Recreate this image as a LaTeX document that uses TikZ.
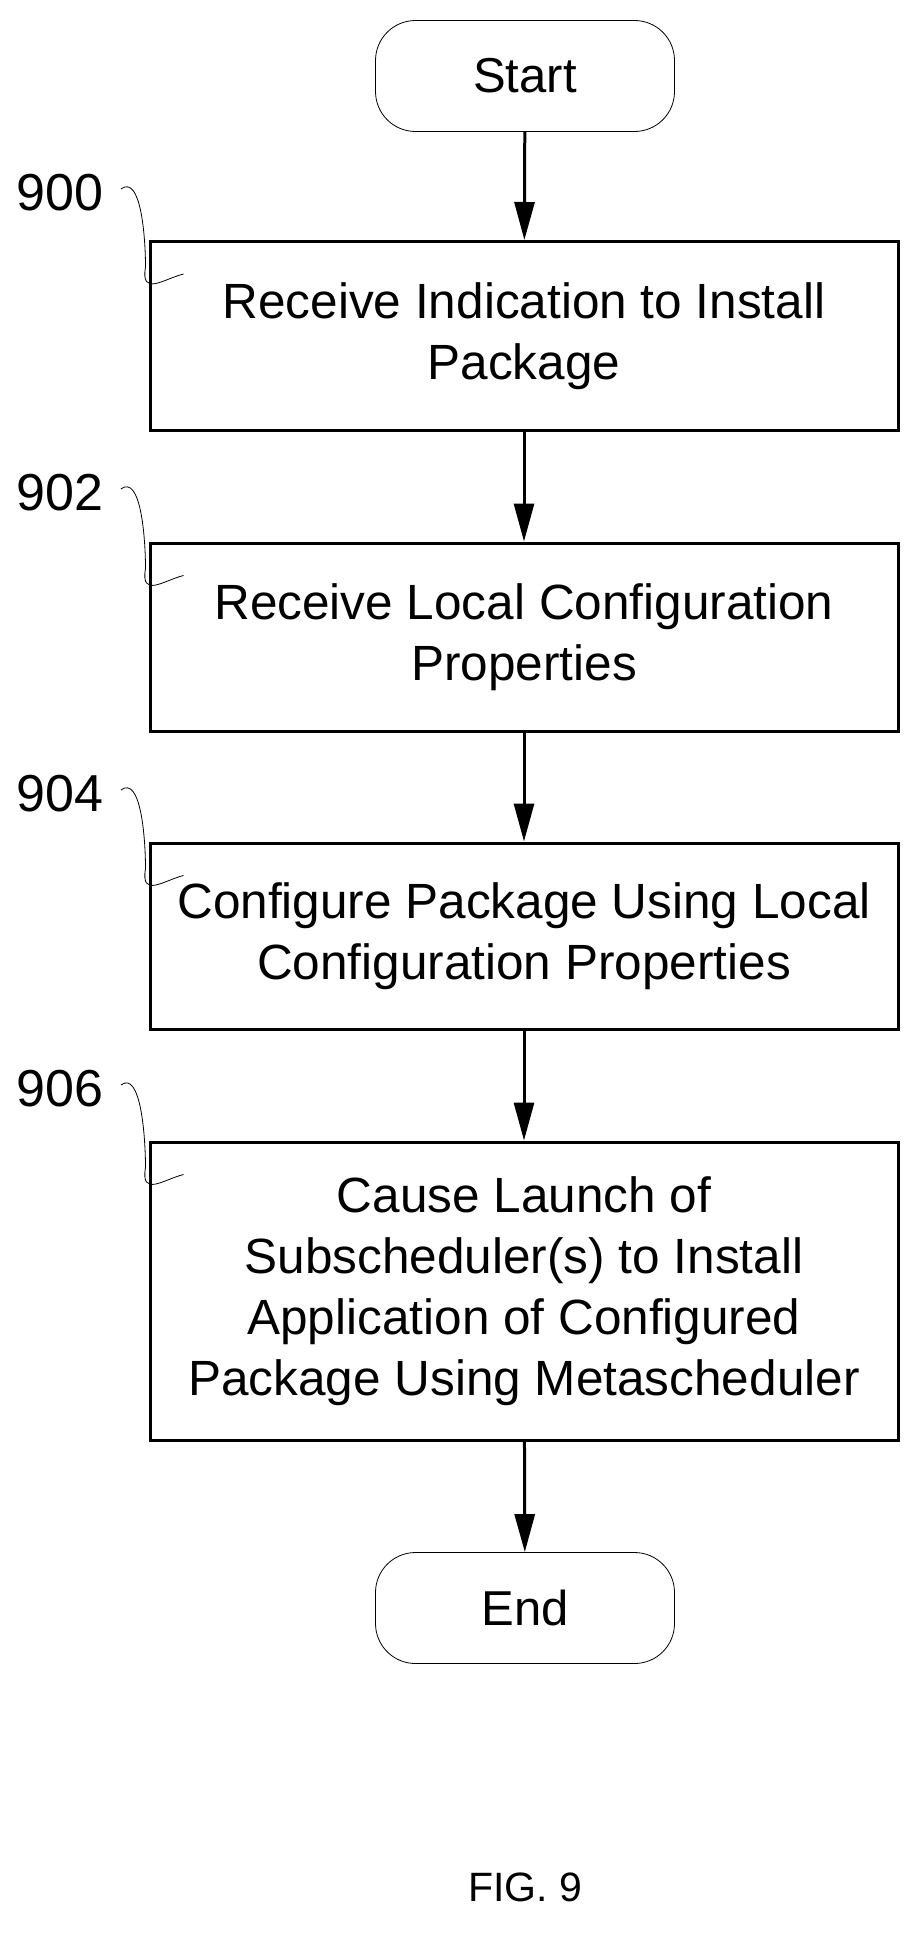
\documentclass[tikz,border=0pt]{standalone}
\usepackage{fontspec}
\setmainfont{Liberation Sans}
\usetikzlibrary{arrows.meta}
\begin{document}
\begin{tikzpicture}[x=1pt,y=-1pt,
  box/.style={draw,line width=3pt,minimum width=748pt,align=center,font=\fontsize{49.5}{61}\selectfont,inner sep=0pt},
  term/.style={draw,line width=0.8pt,rounded corners=40pt,minimum width=299pt,minimum height=111pt,font=\fontsize{49}{58}\selectfont},
  lbl/.style={font=\fontsize{52}{60}\selectfont},
  arr/.style={line width=3pt,-{Triangle[length=38pt,width=20pt]}},
  sq/.style={line width=0.8pt}]
\useasboundingbox (0,0) rectangle (923,1935);
\node[term] (s) at (525,76) {Start};
\node[box,minimum height=189pt] (b1) at (524,336) {Receive Indication to Install\\Package};
\node[box,minimum height=188pt] (b2) at (524,637) {Receive Local Configuration\\Properties};
\node[box,minimum height=186pt] (b3) at (524,936) {Configure Package Using Local\\Configuration Properties};
\node[box,minimum height=298pt] (b4) at (524,1291) {Cause Launch of\\Subscheduler(s) to Install\\Application of Configured\\Package Using Metascheduler};
\node[font=\fontsize{41}{50}\selectfont] (fig) at (525,1887) {FIG. 9};
\node[term] (e) at (525,1608) {End};
\draw[arr] (s) -- (b1);
\draw[arr] (b1) -- (b2);
\draw[arr] (b2) -- (b3);
\draw[arr] (b3) -- (b4);
\draw[arr] (b4) -- (e);
\foreach \n/\y/\b in {900/193/b1,902/493/b2,904/794/b3,906/1089/b4}{
  \node[lbl] (l\n) at (60,\y) {\n};
  \coordinate (q\n) at ([xshift=-3pt,yshift=-2pt]\b.north west);
  \draw[sq] ([xshift=14pt,yshift=4pt]l\n.east) .. controls +(20,-15) and +(0,-30) .. ([yshift=-25pt]q\n)
     .. controls +(-5,30) and +(-20,5) .. ([xshift=38pt,yshift=-32pt]q\n);
}
\end{tikzpicture}
\end{document}
